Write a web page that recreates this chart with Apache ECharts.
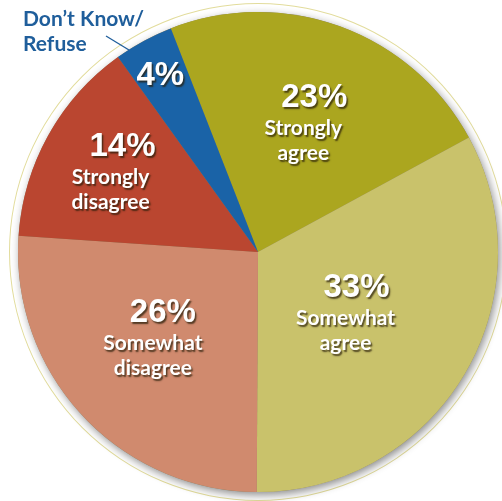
<!DOCTYPE html>
<html>
<head>
<meta charset="utf-8">
<script src="https://cdn.jsdelivr.net/npm/echarts@6/dist/echarts.min.js"></script>
<style>
html,body{margin:0;padding:0;background:#fff;}
#chart{width:502px;height:501px;}
</style>
</head>
<body>
<div id="chart"></div>
<script>
// Data
var categories = ['Strongly agree', 'Somewhat agree', 'Somewhat disagree', 'Strongly disagree', 'Don\u2019t Know/Refuse'];
var values = [23, 33, 26, 14, 4];
var labelLines = [['Strongly', 'agree'], ['Somewhat', 'agree'], ['Somewhat', 'disagree'], ['Strongly', 'disagree'], []];

// Styling / layout (kept separate from data)
var colors = ['#aba61f', '#c9c26b', '#d08a6e', '#ba4630', '#1a63a7'];
var labelOffsets = [[3, -14], [-18, -2], [-15, 2], [-40, -20], [-39, -68]];
var pctPadLeft = [22, 22, 20, 24, 0];

var CX = 258, CY = 252, R = 240;

var data = categories.map(function (c, i) {
  return {
    name: c,
    value: values[i],
    itemStyle: { color: colors[i] },
    label: {
      offset: labelOffsets[i],
      rich: {
        p: { padding: [0, 0, 0, pctPadLeft[i]] }
      }
    }
  };
});

var chart = echarts.init(document.getElementById('chart'));
var shadowText = {
  textShadowColor: 'rgba(40,30,10,0.75)',
  textShadowOffsetX: 1.5,
  textShadowOffsetY: 2,
  textShadowBlur: 1.5
};

chart.setOption({
  animation: false,
  backgroundColor: '#ffffff',
  title: {
    text: 'Don\u2019t Know/\nRefuse',
    left: 18,
    top: 2,
    textStyle: {
      color: '#1f5e9b',
      fontFamily: 'Lato',
      fontWeight: 'bold',
      fontSize: 21,
      lineHeight: 25
    }
  },
  graphic: [{
    type: 'line',
    shape: { x1: 106, y1: 36, x2: 129, y2: 50 },
    style: { stroke: '#1f5e9b', lineWidth: 1.3 },
    z: 10
  }],
  series: [
    {
      // thin outer ring
      type: 'pie',
      silent: true,
      center: [CX, CY],
      radius: [R + 8, R + 9],
      label: { show: false },
      labelLine: { show: false },
      itemStyle: { color: '#e2dc9c' },
      data: [{ value: 1, name: 'ring' }],
      z: 1
    },
    {
      // shadow base
      type: 'pie',
      silent: true,
      center: [CX, CY],
      radius: R,
      label: { show: false },
      labelLine: { show: false },
      itemStyle: {
        color: '#8a8060',
        shadowBlur: 8,
        shadowColor: 'rgba(0,0,0,0.45)',
        shadowOffsetX: 2,
        shadowOffsetY: 3
      },
      data: [{ value: 1, name: 'base' }],
      z: 2
    },
    {
      type: 'pie',
      center: [CX, CY],
      radius: R,
      startAngle: 111.3,
      clockwise: true,
      avoidLabelOverlap: false,
      z: 3,
      itemStyle: { borderWidth: 0 },
      label: {
        show: true,
        position: 'inside',
        color: '#ffffff',
        formatter: function (p) {
          var lines = labelLines[p.dataIndex];
          var s = '{p|' + p.value + '%}';
          lines.forEach(function (l) { s += '\n{t|' + l + '}'; });
          return s;
        },
        rich: {
          p: {
            color: '#ffffff',
            fontFamily: 'Liberation Sans',
            fontWeight: 'bold',
            fontSize: 33,
            lineHeight: 36,
            textShadowColor: 'rgba(40,30,10,0.75)',
            textShadowOffsetX: 1.5,
            textShadowOffsetY: 2,
            textShadowBlur: 1.5
          },
          t: {
            color: '#ffffff',
            fontFamily: 'Lato',
            fontWeight: 'bold',
            fontSize: 21,
            lineHeight: 25,
            textShadowColor: 'rgba(40,30,10,0.75)',
            textShadowOffsetX: 1.5,
            textShadowOffsetY: 2,
            textShadowBlur: 1.5
          }
        }
      },
      labelLine: { show: false },
      emphasis: { disabled: true },
      data: data
    }
  ]
});
</script>
</body>
</html>
